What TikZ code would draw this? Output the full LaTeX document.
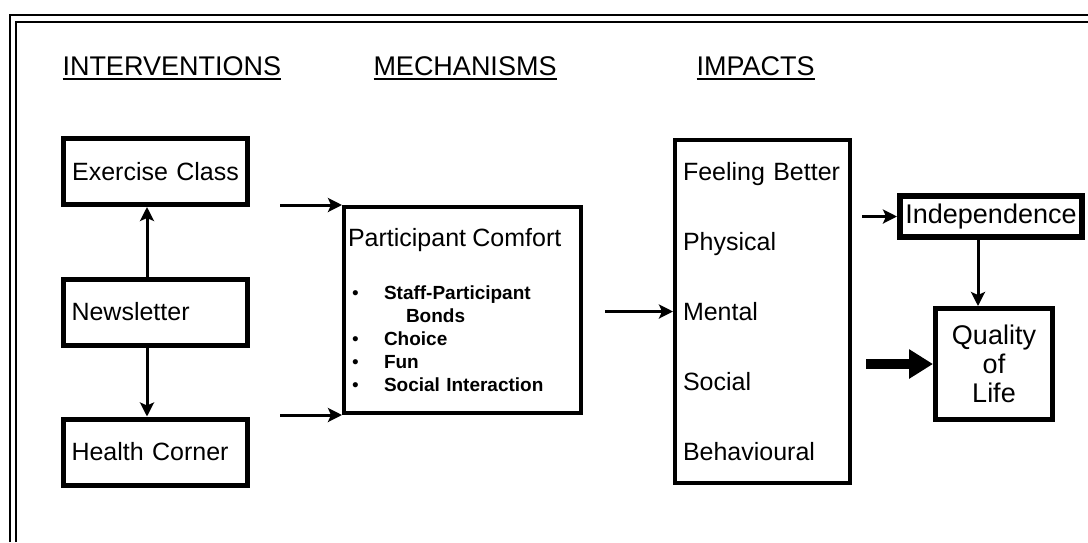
\documentclass[tikz,border=0pt]{standalone}
\usepackage{fontspec}
\setmainfont{Liberation Sans}
\usetikzlibrary{arrows.meta}
\newcommand{\hdrline}[1]{\setbox0\hbox{#1}\rlap{\rule[-2.6pt]{\wd0}{0.9pt}}\box0}
\newcommand{\blt}{\hspace*{2pt}\makebox[16pt][l]{\mdseries\textbullet}}

\begin{document}
\begin{tikzpicture}[x=0.5pt, y=-0.5pt,
	line width = 1.5pt,
	head/.style={anchor=base west, inner sep=0pt, font=\fontsize{13.5}{16}\selectfont},
	ibox/.style={draw, line width=2.5pt, inner xsep=4pt, inner ysep=0pt, text width=84pt, minimum height=33pt, font=\fontsize{12.5}{15}\selectfont},
	mbox/.style={draw, line width=2pt, inner ysep=0pt, align=left, font=\fontsize{12.5}{15}\selectfont},
	obox/.style={draw, line width=3pt, inner sep=0pt, align=center, font=\fontsize{13.5}{14.5}\selectfont},
	arr/.style={-{Stealth[length=7pt, width=7pt, inset=1.5pt]}},
	bigarr/.style={line width=5pt, -{Triangle[length=12pt, width=14pt]}}]

	\useasboundingbox (0,0) rectangle (1088,542);
	\draw[line width=1.2pt] (10,542) -- (10,15) -- (1088,15);
	\draw[line width=1pt] (16,542) -- (16,21.5) -- (1088,21.5);

	\node[head] (hint) at (61,75) {\hdrline{INTERVENTIONS}};
	\node[head] (hmech) at (372,75) {\hdrline{MECHANISMS}};
	\node[head] (himp) at (695,75) {\hdrline{IMPACTS}};

	\node[ibox, align=center] (ex) at (155.5,171.5) {Exercise Class};
	\node[ibox, align=left] (news) at (155.5,312) {Newsletter};
	\node[ibox, align=left] (hc) at (155.5,452) {Health Corner};

	\node[mbox, inner xsep=2pt, text width=114.5pt, minimum height=103pt, font=\bfseries\fontsize{9.5}{11.5}\selectfont] (pc) at (462.5,310) {{\mdseries\fontsize{12.5}{15}\selectfont Participant Comfort}\\[15pt]
		\blt Staff-Participant\\ \hspace*{29pt}Bonds\\ \blt Choice\\ \blt Fun\\ \blt Social Interaction};

	\node[mbox, inner xsep=4pt, text width=79.5pt, minimum height=171.5pt, font=\fontsize{12.5}{35}\selectfont] (imp) at (762.5,311.5) {Feeling Better\\ Physical\\ Mental\\ Social\\ Behavioural};

	\node[obox, minimum width=91pt, minimum height=20.5pt] (ind) at (991,216.5) {Independence};
	\node[obox, line width=2.5pt, minimum width=58.5pt, minimum height=55.5pt] (qol) at (994,364) {Quality\\ of\\ Life};

	\coordinate (ta) at (280,205);
	\coordinate (ba) at (280,415);
	\coordinate (ma) at (605,311.5);
	\coordinate (ia) at (862,216.5);
	\coordinate (qa) at (866,364);

	\draw[arr] ([xshift=-4.25pt]news.north) -- ([xshift=-4.25pt]ex.south);
	\draw[arr] ([xshift=-4.25pt]news.south) -- ([xshift=-4.25pt]hc.north);
	\draw[arr] (ta) -- (pc.north west);
	\draw[arr] (ba) -- (pc.south west);
	\draw[arr] (ma) -- (imp.west);
	\draw[arr] (ia) -- (ind.west);
	\draw[arr] ([xshift=-6.5pt]ind.south) -- ([xshift=-6.5pt]ind.south |- qol.north);
	\draw[bigarr] (qa) -- (qol.west);
\end{tikzpicture}
\end{document}
